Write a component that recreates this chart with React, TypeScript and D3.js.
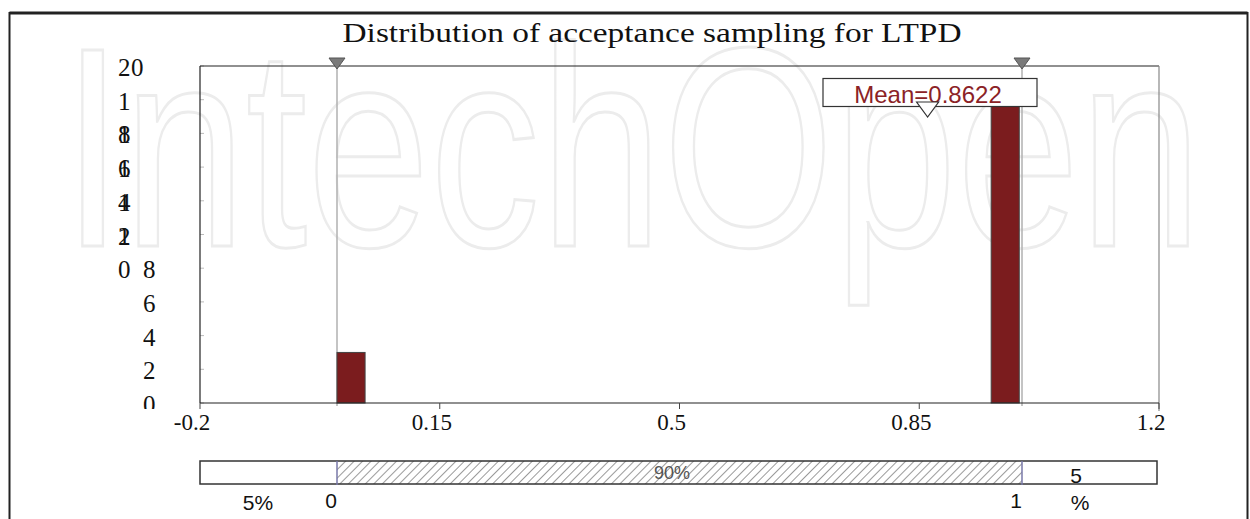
import React from "react";
import * as d3 from "d3";

const title = "Distribution of acceptance sampling for LTPD";
const xTicks = [-0.2, 0.15, 0.5, 0.85, 1.2];
const xTickLabels = ["-0.2", "0.15", "0.5", "0.85", "1.2"];
const yTicks = [0, 0.2, 0.4, 0.6, 0.8, 1.0, 1.2, 1.4, 1.6, 1.8, 2.0];
// rendered (garbled) label glyphs as they appear in the reference
const yIntPart = ["", "", "", "", "0", "1", "1", "1", "1", "1", "2"];
const yFracPart = ["0", "2", "4", "6", "8", "2", "4", "6", "8", "", "0"];
const yFracCol = ["r", "r", "r", "r", "r", "l", "l", "l", "l", "", "m"];
const binStart = [0, 0.955];
const binEnd = [0.041, 0.996];
const binDensity = [0.3, 1.77];
const meanValue = 0.8622;
const lowerBound = 0;
const upperBound = 1;
const leftPct = "5%";
const midPct = "90%";
const rightPct = ["5", "%"];

const W = 1250;
const H = 519;
const plot = { left: 200, right: 1159, top: 66, bottom: 403 };

export default function App() {
  const x = d3.scaleLinear().domain([-0.2, 1.2]).range([plot.left, plot.right]);
  const y = d3.scaleLinear().domain([0, 2]).range([plot.bottom, plot.top]);
  const serif = "'Liberation Serif', 'DejaVu Serif', serif";
  const sans = "'Liberation Sans', Arial, sans-serif";
  const colX: Record<string, number> = { r: 143, l: 118, m: 131 };
  const mx = x(meanValue);

  return (
    <svg
      width={W}
      height={H}
      style={{ position: "absolute", left: 0, top: 0, background: "#fff" }}
    >
      <defs>
        <pattern id="hatch" width="6" height="6" patternUnits="userSpaceOnUse" patternTransform="rotate(45)">
          <rect width="6" height="6" fill="#fff" />
          <line x1="0" y1="0" x2="0" y2="6" stroke="#9a9a9a" strokeWidth="2" />
        </pattern>
        <clipPath id="topclip">
          <rect x="0" y="0" width={W} height="409" />
        </clipPath>
      </defs>

      {/* watermark */}
      <text
        x={62}
        y={246}
        fontFamily={sans}
        fontSize={285}
        textLength={1140}
        lengthAdjust="spacingAndGlyphs"
        fill="none"
        stroke="#ececec"
        strokeWidth={3}
      >
        IntechOpen
      </text>

      {/* outer frame */}
      <line x1={9.5} y1={13} x2={1247.5} y2={13} stroke="#222" strokeWidth={3} />
      <line x1={9.5} y1={12} x2={9.5} y2={H} stroke="#222" strokeWidth={2} />
      <line x1={1247.5} y1={12} x2={1247.5} y2={H} stroke="#222" strokeWidth={2} />

      {/* title */}
      <text
        x={652}
        y={42}
        textAnchor="middle"
        fontFamily={serif}
        fontSize={28}
        textLength={619}
        lengthAdjust="spacingAndGlyphs"
        fill="#111"
      >
        {title}
      </text>

      {/* y labels */}
      <g clipPath="url(#topclip)" fontFamily={serif} fontSize={25} fill="#111">
        {yTicks.map((t, i) => (
          <g key={i}>
            {yIntPart[i] && (
              <text x={118} y={y(t) + 10}>
                {yIntPart[i]}
              </text>
            )}
            {yFracPart[i] && (
              <text x={colX[yFracCol[i]]} y={y(t) + 10}>
                {yFracPart[i]}
              </text>
            )}
          </g>
        ))}
      </g>

      {/* y tick marks */}
      {yTicks.map((t, i) => (
        <line key={i} x1={plot.left} x2={plot.left + 4} y1={y(t)} y2={y(t)} stroke="#bbb" strokeWidth={1} />
      ))}

      {/* frame of plot */}
      <line x1={plot.left} y1={plot.top} x2={plot.right} y2={plot.top} stroke="#222" strokeWidth={1.2} />
      <line x1={plot.right} y1={plot.top} x2={plot.right} y2={plot.bottom + 8} stroke="#888" strokeWidth={1.2} />

      {/* bound lines */}
      {[lowerBound, upperBound].map((b, i) => (
        <line key={i} x1={x(b)} x2={x(b)} y1={plot.top} y2={plot.bottom + 3} stroke="#b0b0b0" strokeWidth={1.5} />
      ))}

      {/* bars */}
      {binStart.map((s, i) => (
        <rect
          key={i}
          x={x(s)}
          y={y(binDensity[i])}
          width={x(binEnd[i]) - x(s)}
          height={plot.bottom - y(binDensity[i])}
          fill="#7b1c1e"
          stroke="#444"
          strokeWidth={1}
        />
      ))}

      {/* axes */}
      <line x1={plot.left} y1={plot.top} x2={plot.left} y2={plot.bottom} stroke="#222" strokeWidth={1.2} />
      <line x1={plot.left} y1={plot.bottom} x2={plot.right} y2={plot.bottom} stroke="#222" strokeWidth={1.2} />
      {xTicks.map((t, i) => (
        <g key={i}>
          <line x1={x(t)} x2={x(t)} y1={plot.bottom} y2={plot.bottom + 6} stroke="#444" />
          <text x={x(t) - 8} y={430} textAnchor="middle" fontFamily={serif} fontSize={23} fill="#111">
            {xTickLabels[i]}
          </text>
        </g>
      ))}

      {/* bound triangles */}
      {[lowerBound, upperBound].map((b, i) => {
        const cx = x(b);
        return (
          <path
            key={i}
            d={`M${cx - 8},58 L${cx + 8},58 L${cx},69 Z`}
            fill="#7a7a7a"
            stroke="#555"
            strokeWidth={1}
          />
        );
      })}

      {/* mean label */}
      <rect x={823} y={78.5} width={214} height={28} fill="#fff" stroke="#333" strokeWidth={1.2} />
      <text x={928} y={103} textAnchor="middle" fontFamily={sans} fontSize={24} fill="#8b2226">
        Mean={meanValue}
      </text>
      <path d={`M${mx - 11},102 L${mx + 11},102 L${mx},117 Z`} fill="#fff" stroke="#333" strokeWidth={1.2} />

      {/* bottom bound bar */}
      <rect x={x(lowerBound)} y={461} width={x(upperBound) - x(lowerBound)} height={23} fill="url(#hatch)" />
      <rect x={plot.left} y={461} width={1157 - plot.left} height={23} fill="none" stroke="#333" strokeWidth={1.5} />
      <line x1={x(lowerBound)} x2={x(lowerBound)} y1={461} y2={485} stroke="#7878a8" strokeWidth={1.5} />
      <line x1={x(upperBound)} x2={x(upperBound)} y1={461} y2={485} stroke="#7878a8" strokeWidth={1.5} />
      <text x={672} y={479} textAnchor="middle" fontFamily={sans} fontSize={18} fill="#555">
        {midPct}
      </text>
      <g fontFamily={sans} fontSize={21} fill="#111">
        <text x={258} y={510} textAnchor="middle">{leftPct}</text>
        <text x={x(lowerBound) - 6} y={508} textAnchor="middle">{String(lowerBound)}</text>
        <text x={x(upperBound) - 6} y={508} textAnchor="middle">{String(upperBound)}</text>
        <text x={1076} y={483} textAnchor="middle">{rightPct[0]}</text>
        <text x={1080} y={510} textAnchor="middle">{rightPct[1]}</text>
      </g>
    </svg>
  );
}
